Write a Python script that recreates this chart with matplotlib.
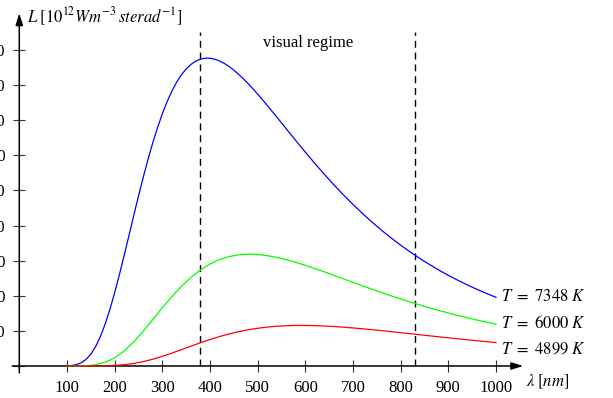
import matplotlib
matplotlib.use('Agg')
import matplotlib.pyplot as plt

# wavelengths in nm and spectral radiance in 10^12 W m^-3 sterad^-1
wl_blue = list(range(100, 500, 10)) + list(range(500, 1001, 20))
wavelengths = list(range(100, 1001, 20))

L_7348 = [0.037, 0.137, 0.392, 0.922, 1.868, 3.359, 5.501, 8.347, 11.90, 16.09,
          20.84, 26.03, 31.51, 37.16, 42.83, 48.40, 53.77, 58.86, 63.60, 67.93,
          71.83, 75.28, 78.28, 80.84, 82.94, 84.63, 85.92, 86.85, 87.43, 87.70,
          87.68, 87.41, 86.92, 86.21, 85.33, 84.29, 83.12, 81.83, 80.44, 78.99,
          77.46, 74.26, 70.95, 67.58, 64.23, 60.93, 57.71, 54.60, 51.61, 48.74,
          46.02, 43.43, 40.98, 38.66, 36.48, 34.42, 32.49, 30.66, 28.95, 27.34,
          25.83, 24.42, 23.09, 21.84, 20.67, 19.57]
L_6000 = [0.0005, 0.010, 0.081, 0.352, 1.033, 2.310, 4.266, 6.848, 9.899, 13.21,
          16.56, 19.77, 22.69, 25.24, 27.37, 29.05, 30.31, 31.16, 31.66, 31.85,
          31.76, 31.44, 30.94, 30.30, 29.53, 28.68, 27.76, 26.80, 25.82, 24.82,
          23.83, 22.84, 21.87, 20.92, 19.99, 19.10, 18.23, 17.40, 16.60, 15.83,
          15.10, 14.40, 13.73, 13.09, 12.49, 11.91]
L_4899 = [0.0, 0.0001, 0.002, 0.012, 0.052, 0.156, 0.368, 0.725, 1.246, 1.927,
          2.746, 3.668, 4.648, 5.643, 6.617, 7.537, 8.380, 9.129, 9.775, 10.32,
          10.75, 11.08, 11.32, 11.47, 11.55, 11.55, 11.50, 11.39, 11.24, 11.05,
          10.84, 10.60, 10.34, 10.07, 9.781, 9.492, 9.198, 8.903, 8.607, 8.315,
          8.026, 7.742, 7.463, 7.191, 6.928, 6.670]

xs = [wl_blue, wavelengths, wavelengths]
curves = [L_7348, L_6000, L_4899]
labels = ['$T\\ =\\ 7348\\ K$', '$T\\ =\\ 6000\\ K$', '$T\\ =\\ 4899\\ K$']
colors = ['#0000ff', '#00ff00', '#ff0000']
label_y = [18.4, 10.7, 3.6]

visual = [380, 830]
xticks = [0, 100, 200, 300, 400, 500, 600, 700, 800, 900, 1000]
yticks = [0, 10, 20, 30, 40, 50, 60, 70, 80, 90]

plt.rcParams['font.family'] = 'Liberation Serif'
plt.rcParams['mathtext.fontset'] = 'stix'

fig = plt.figure(figsize=(6.13, 3.98), dpi=100)
ax = fig.add_axes([0.0198, 0.0628, 0.836, 0.8995])
ax.set_xlim(-15, 1060)
ax.set_ylim(-2, 100)

for s in ax.spines.values():
    s.set_visible(False)
ax.spines['left'].set_position(('data', 0))
ax.spines['bottom'].set_position(('data', 0))

ax.set_xticks(xticks)
ax.set_xticklabels([''] + [str(v) for v in xticks[1:]])
ax.set_yticks(yticks)
ax.set_yticklabels([''] + [str(v) for v in yticks[1:]])
ax.tick_params(direction='inout', length=9, width=0.8, color='#333333',
               labelsize=12, pad=5.5)

# axes with arrows
arrow = dict(arrowstyle='-|>,head_length=0.7,head_width=0.22', lw=1.1,
             color='black', shrinkA=0, shrinkB=0)
ax.annotate('', xy=(1057, 0), xytext=(-15, 0), arrowprops=arrow, annotation_clip=False)
ax.annotate('', xy=(0, 100.5), xytext=(0, -2), arrowprops=arrow, annotation_clip=False)

for v in visual:
    ax.plot([v, v], [0, 95.2], color='black', lw=1.0, ls=(0, (5, 3.5)), zorder=2)

for x, y, lab, c, ly in zip(xs, curves, labels, colors, label_y):
    ax.plot(x, y, color=c, lw=0.9, zorder=3, clip_on=False,
            solid_joinstyle='round')
    ax.text(1010, ly, lab, fontsize=12, ha='left', va='baseline')

ax.text(606, 91.0, 'visual regime', fontsize=12, ha='center', va='baseline')
ax.text(16, 97.7, '$L\\;[10^{12}Wm^{-3}\\,sterad^{-1}]$', fontsize=12,
        ha='left', va='baseline')
ax.text(1063, -5.7, '$\\lambda\\;[nm]$', fontsize=12, ha='left', va='baseline')

fig.savefig('out.png', dpi=100)
